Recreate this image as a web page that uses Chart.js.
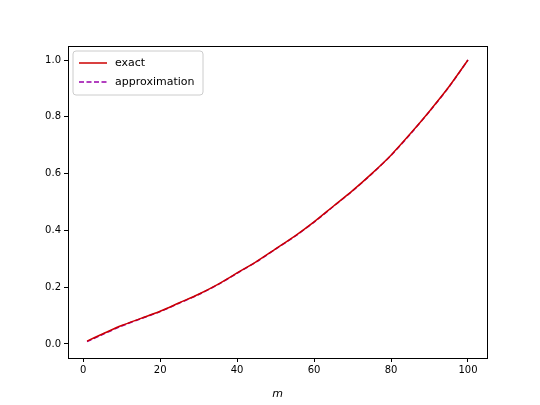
<!DOCTYPE html>
<html><head><script src="https://cdn.jsdelivr.net/npm/chart.js@4"></script>
<style>body{margin:0;background:#fff}#w{width:540px;height:405px}</style></head>
<body><div id="w"><canvas id="c"></canvas></div>
<script>
const mValues=[1,5,10,15,20,25,30,35,40,45,50,55,60,65,70,75,80,85,90,95,100];
const exactValues=[0.01,0.035,0.065,0.09,0.115,0.145,0.175,0.21,0.25,0.29,0.335,0.38,0.43,0.485,0.54,0.6,0.665,0.74,0.82,0.905,1.0];
const approxValues=[0.008,0.033,0.063,0.089,0.114,0.144,0.174,0.209,0.249,0.289,0.334,0.379,0.429,0.484,0.539,0.599,0.664,0.739,0.819,0.904,1.0];
const seriesLabels=['exact','approximation'];
const F='DejaVu Sans';
const frame={id:'frame',afterDraw(c){const a=c.chartArea,x=c.ctx;x.save();x.strokeStyle='#000';x.lineWidth=1;x.strokeRect(a.left+0.5,a.top+0.5,a.right-a.left,a.bottom-a.top);
// legend
const lx=a.left+5,ly=a.top+5;x.fillStyle='rgba(255,255,255,0.8)';x.strokeStyle='#ccc';x.beginPath();x.roundRect(lx,ly,130,44,3);x.fill();x.stroke();
x.font='11px '+F;x.fillStyle='#000';x.textBaseline='middle';
x.lineWidth=1.5;x.strokeStyle='#cc0000';x.setLineDash([]);x.beginPath();x.moveTo(lx+6,ly+12);x.lineTo(lx+34,ly+12);x.stroke();x.fillText(seriesLabels[0],lx+42,ly+12);
x.strokeStyle='#9900aa';x.setLineDash([5,2.5]);x.beginPath();x.moveTo(lx+6,ly+31);x.lineTo(lx+34,ly+31);x.stroke();x.fillText(seriesLabels[1],lx+42,ly+31);
x.restore();}};
new Chart(document.getElementById('c'),{type:'line',
data:{datasets:[
{label:seriesLabels[0],data:mValues.map((m,i)=>({x:m,y:exactValues[i]})),borderColor:'#cc0000',borderWidth:1.5,pointRadius:0,tension:0.3},
{label:seriesLabels[1],data:mValues.map((m,i)=>({x:m,y:approxValues[i]})),borderColor:'#9900aa',borderWidth:1.5,borderDash:[5,2.5],pointRadius:0,tension:0.3}]},
options:{responsive:true,maintainAspectRatio:false,animation:false,
layout:{padding:{left:0,top:46,right:53,bottom:0}},
plugins:{legend:{display:false},tooltip:{enabled:false}},
scales:{
x:{type:'linear',min:-3.95,max:104.95,afterFit(s){s.height=47},afterBuildTicks(s){s.ticks=[0,20,40,60,80,100].map(v=>({value:v}))},
grid:{drawOnChartArea:false,tickLength:4,color:'#000'},border:{display:false},
ticks:{color:'#000',font:{family:F,size:10},padding:2},
title:{display:true,text:'m',color:'#000',font:{family:F,size:11,style:'italic'},padding:{top:2}}},
y:{min:-0.0495,max:1.0495,afterFit(s){s.width=68},afterBuildTicks(s){s.ticks=[0,0.2,0.4,0.6,0.8,1.0].map(v=>({value:v}))},
grid:{drawOnChartArea:false,tickLength:4,color:'#000'},border:{display:false},
ticks:{color:'#000',font:{family:F,size:10},padding:3,callback:v=>v.toFixed(1)}}}},
plugins:[frame]});
</script></body></html>
